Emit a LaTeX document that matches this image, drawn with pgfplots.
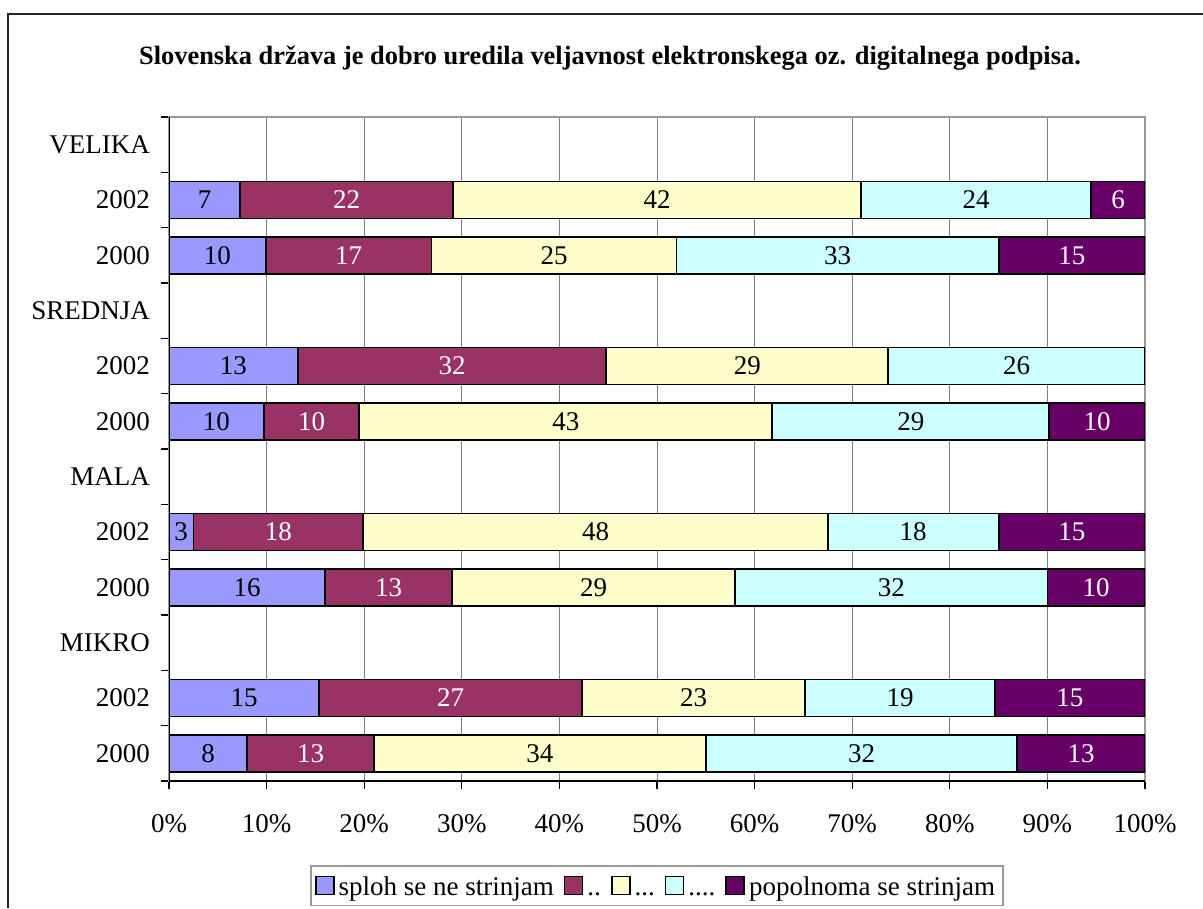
\documentclass[border=0pt]{standalone}
\usepackage{fontspec}
\setmainfont{Liberation Serif}
\usepackage{pgfplots}
\usepackage{pgfplotstable}
\pgfplotsset{compat=1.18}

\definecolor{cA}{HTML}{9999FF}
\definecolor{cB}{HTML}{993366}
\definecolor{cC}{HTML}{FFFFCC}
\definecolor{cD}{HTML}{CCFFFF}
\definecolor{cE}{HTML}{660066}
\newcommand\f{\fontsize{13.5bp}{16bp}\selectfont}

% rows: 11 VELIKA, 10/9 = 2002/2000, 8 SREDNJA, ... 0 = MIKRO 2000
\pgfplotstableread{
y x lab
10 7.3 7
9 9.9 10
7 13.2 13
6 9.7 10
4 2.5 3
3 16.0 16
1 15.4 15
0 8.0 8
}\tA
\pgfplotstableread{
y x lab
10 21.8 22
9 17.0 17
7 31.6 32
6 9.8 10
4 17.4 18
3 13.0 13
1 26.9 27
0 13.0 13
}\tB
\pgfplotstableread{
y x lab
10 41.8 42
9 25.1 25
7 28.9 29
6 42.3 43
4 47.6 48
3 29.0 29
1 22.9 23
0 34.0 34
}\tC
\pgfplotstableread{
y x lab
10 23.6 24
9 33.0 33
7 26.3 26
6 28.4 29
4 17.5 18
3 32.0 32
1 19.4 19
0 31.9 32
}\tD
\pgfplotstableread{
y x lab
10 5.5 6
9 15.0 15
7 0.0 0
6 9.8 10
4 15.0 15
3 10.0 10
1 15.4 15
0 13.1 13
}\tE

\begin{document}
\begin{tikzpicture}
\begin{scope}[x=0.5bp,y=-0.5bp]
\useasboundingbox (0,0) rectangle (1203,908);
\draw[line width=0.7bp,black!85] (8,908) -- (8,14) -- (1203,14);
\node[font=\bfseries\fontsize{13.2bp}{16bp}\selectfont] at (610,58) {Slovenska država je dobro uredila veljavnost elektronskega oz. digitalnega podpisa.};
\end{scope}
\begin{axis}[
  at={(84.5bp,-390.5bp)}, anchor=south west,
  scale only axis, width=488bp, height=332bp,
  xbar stacked, bar width=0.67,
  xmin=0, xmax=100, ymin=-0.5, ymax=11.5,
  xtick={0,10,...,100},
  xticklabels={0\%,10\%,20\%,30\%,40\%,50\%,60\%,70\%,80\%,90\%,100\%},
  xticklabel style={yshift=-9bp},
  ytick={-0.5,0.5,...,11.5}, yticklabels={,,,,,,,,,,,,,},
  extra y ticks={0,1,...,11},
  extra y tick labels={2000,2002,MIKRO,2000,2002,MALA,2000,2002,SREDNJA,2000,2002,VELIKA},
  extra y tick style={major tick length=0pt, yticklabel style={xshift=-6bp}},
  tick align=outside, xtick pos=bottom, ytick pos=left,
  major tick length=4bp,
  tick style={black, line width=0.6bp},
  xmajorgrids, grid style={gray, line width=0.5bp},
  axis line style={gray!80, line width=0.8bp},
  ticklabel style={font=\f},
  nodes near coords, point meta=explicit symbolic,
  every node near coord/.append style={font=\f, text=black},
  legend columns=5,
  legend style={at={(0.5,-0.1575)}, anchor=center, font=\f,
    draw=gray!80, line width=0.6bp, column sep=0bp,
    inner xsep=2bp, inner ysep=1.5bp,
    nodes={inner xsep=2bp},
    /tikz/every even column/.append style={column sep=3bp}},
  legend image code/.code={\draw[#1, line width=0.8bp] (0bp,-4.5bp) rectangle (9bp,4.5bp);},
]
\addplot[fill=cA, draw=black, line width=0.9bp] table[x=x, y=y, meta=lab] {\tA};
\addlegendentry{\strut sploh se ne strinjam}
\addplot[fill=cB, draw=black, line width=0.9bp, every node near coord/.append style={text=white}] table[x=x, y=y, meta=lab] {\tB};
\addlegendentry{\strut ..}
\addplot[fill=cC, draw=black, line width=0.9bp] table[x=x, y=y, meta=lab] {\tC};
\addlegendentry{\strut ...}
\addplot[fill=cD, draw=black, line width=0.9bp] table[x=x, y=y, meta=lab] {\tD};
\addlegendentry{\strut ....}
\addplot[fill=cE, draw=black, line width=0.9bp, every node near coord/.append style={text=white}] table[x=x, y=y, meta=lab] {\tE};
\addlegendentry{\strut popolnoma se strinjam}
\draw[black, line width=0.8bp] (rel axis cs:0,1) -- (rel axis cs:0,0) -- (rel axis cs:1,0);
\end{axis}
\end{tikzpicture}
\end{document}
